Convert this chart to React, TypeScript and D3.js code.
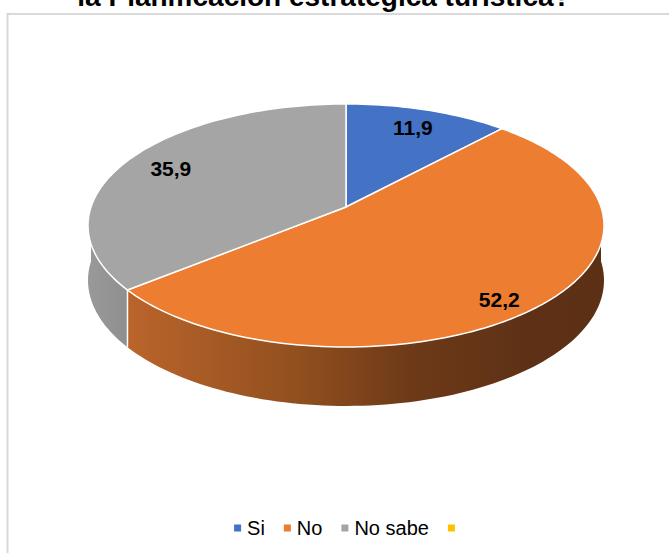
import React from "react";
import * as d3 from "d3";

const categories = ["Si", "No", "No sabe", ""];
const values = [11.9, 52.2, 35.9, 0];
const labels = ["11,9", "52,2", "35,9", ""];
const colors = ["#4472c4", "#ed7d31", "#a5a5a5", "#ffc000"];
const titleText = "la Planificación estratégica turística?";

const W = 669;
const H = 553;
const FONT = "Arial, 'Liberation Sans', sans-serif";

// pie projection parameters
const cx = 346;
const cy = 207;
const A = 255;
const B = 118.7;
const K = 0.152;
const WALL = 54.3;

function proj(phi: number, f = 1) {
  const u = f * Math.sin(phi);
  const v = -f * Math.cos(phi);
  const den = 1 - K * v;
  return { x: cx + (A * u) / den, y: cy + (B * v) / den, v, den };
}
function wallH(phi: number) {
  const p = proj(phi);
  return WALL / Math.sqrt(p.den);
}

function measure(text: string, font: string) {
  const c = document.createElement("canvas").getContext("2d");
  if (!c) return text.length * 10;
  c.font = font;
  return c.measureText(text).width;
}

export default function App() {
  const pie = d3
    .pie<number>()
    .sort(null)
    .startAngle(0)
    .endAngle(2 * Math.PI)
    .value((d) => d);
  const arcs = pie(values).filter((a) => a.endAngle - a.startAngle > 1e-6);
  const line = d3.line<[number, number]>();

  const sample = (a0: number, a1: number) => {
    const n = Math.max(2, Math.ceil(((a1 - a0) / (2 * Math.PI)) * 240));
    return d3.range(n + 1).map((i) => a0 + ((a1 - a0) * i) / n);
  };

  const tops = arcs.map((a) => {
    const pts: [number, number][] = [[cx, cy]];
    sample(a.startAngle, a.endAngle).forEach((t) => {
      const p = proj(t);
      pts.push([p.x, p.y]);
    });
    return { d: line(pts) + "Z", color: colors[a.index] };
  });

  const walls: { d: string; idx: number }[] = [];
  const edges: { x: number; y1: number; y2: number }[] = [];
  arcs.forEach((a) => {
    const a0 = Math.max(a.startAngle, Math.PI / 2);
    const a1 = Math.min(a.endAngle, (3 * Math.PI) / 2);
    if (a1 <= a0) return;
    const ts = sample(a0, a1);
    const topPts: [number, number][] = ts.map((t) => {
      const p = proj(t);
      return [p.x, p.y];
    });
    const botPts: [number, number][] = ts
      .slice()
      .reverse()
      .map((t) => {
        const p = proj(t);
        return [p.x, p.y + wallH(t)];
      });
    walls.push({ d: line(topPts.concat(botPts)) + "Z", idx: a.index });
  });
  arcs.forEach((a) => {
    const t = a.startAngle;
    if (t > Math.PI / 2 && t < (3 * Math.PI) / 2) {
      const p = proj(t);
      edges.push({ x: p.x, y1: p.y, y2: p.y + wallH(t) });
    }
  });

  const labelPos = arcs.map((a) => {
    const mid = (a.startAngle + a.endAngle) / 2;
    const p = proj(mid, 0.8);
    const shift = Math.max(0, p.v) * wallH(mid) * 0.5;
    return { x: p.x, y: p.y + shift, text: labels[a.index] };
  });

  // legend layout
  const legFont = `20px ${FONT}`;
  const marker = 7;
  const gap = 6;
  const spacing = 19;
  const widths = categories.map((c) => measure(c, legFont));
  const itemW = widths.map((w) => marker + gap + w);
  const total = d3.sum(itemW) + spacing * (categories.length - 1);
  const legCenter = 347.5;
  let lx = legCenter - total / 2;
  const legendItems = categories.map((c, i) => {
    const item = { x: lx, text: c, color: colors[i] };
    lx += itemW[i] + spacing;
    return item;
  });
  const legY = 528;

  const grad = "wallGradOrange";
  const gradGray = "wallGradGray";
  const wallFill = (idx: number) =>
    idx === 1 ? `url(#${grad})` : idx === 2 ? `url(#${gradGray})` : d3.color(colors[idx])!.darker(1).toString();

  return (
    <div style={{ position: "fixed", left: 0, top: 0, width: W, height: H, background: "#fff" }}>
      <svg width={W} height={H} style={{ display: "block" }} fontFamily={FONT}>
        <defs>
          <linearGradient id={grad} gradientUnits="userSpaceOnUse" x1={88} x2={604} y1={0} y2={0}>
            <stop offset="0" stopColor="#c4692e" />
            <stop offset="0.4" stopColor="#92501f" />
            <stop offset="0.62" stopColor="#6e3a18" />
            <stop offset="0.85" stopColor="#5e3116" />
            <stop offset="1" stopColor="#5c3015" />
          </linearGradient>
          <linearGradient id={gradGray} gradientUnits="userSpaceOnUse" x1={88} x2={140} y1={0} y2={0}>
            <stop offset="0" stopColor="#999999" />
            <stop offset="1" stopColor="#8c8c8c" />
          </linearGradient>
        </defs>
        <rect x={7.5} y={14} width={W + 20} height={H + 20} fill="#fff" stroke="#d9d9d9" strokeWidth={2} />
        <text x={324} y={6} textAnchor="middle" fontSize={28} fontWeight="bold" fill="#000">
          {titleText}
        </text>
        {walls.map((w, i) => (
          <path key={"w" + i} d={w.d} fill={wallFill(w.idx)} />
        ))}
        {edges.map((e, i) => (
          <line key={"e" + i} x1={e.x} x2={e.x} y1={e.y1} y2={e.y2} stroke="#fff" strokeWidth={1.5} />
        ))}
        {tops.map((t, i) => (
          <path key={"t" + i} d={t.d} fill={t.color} stroke="#fff" strokeWidth={1.5} strokeLinejoin="round" />
        ))}
        {labelPos.map((l, i) => (
          <text
            key={"l" + i}
            x={l.x}
            y={l.y}
            textAnchor="middle"
            dominantBaseline="central"
            fontSize={21}
            fontWeight="bold"
            fill="#000"
          >
            {l.text}
          </text>
        ))}
        {legendItems.map((it, i) => (
          <g key={"g" + i}>
            <rect x={it.x} y={legY - marker / 2} width={marker} height={marker} fill={it.color} />
            <text x={it.x + marker + gap} y={legY + 7} fontSize={20} fill="#000">
              {it.text}
            </text>
          </g>
        ))}
      </svg>
    </div>
  );
}
